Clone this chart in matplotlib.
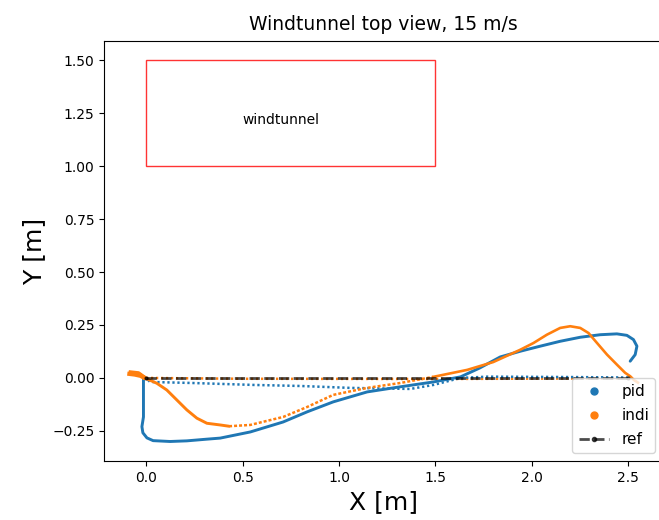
import matplotlib.pyplot as plt
from matplotlib.lines import Line2D
from matplotlib.patches import Rectangle

# pid trajectory: slow loop below the reference, then the climb to the right end
pid_loop_x = [-0.014, -0.014, -0.022, -0.017, 0.004, 0.036, 0.124, 0.211, 0.315,
              0.384, 0.54, 0.71, 0.835, 0.97, 1.146, 1.317, 1.489, 1.63, 1.73,
              1.836, 1.94, 2.044, 2.147, 2.251, 2.355, 2.441, 2.493, 2.527, 2.545,
              2.536, 2.51]
pid_loop_y = [-0.009, -0.184, -0.230, -0.259, -0.283, -0.296, -0.300, -0.297,
              -0.289, -0.284, -0.255, -0.208, -0.160, -0.113, -0.066, -0.042,
              -0.019, 0.005, 0.047, 0.099, 0.126, 0.150, 0.173, 0.192, 0.204,
              0.208, 0.201, 0.181, 0.150, 0.110, 0.079]
# pid fast return along y ~ 0
pid_back_x = [2.5, 2.225, 1.77, 1.63, 1.49, 1.37, 1.058, 0.80, 0.555, 0.244, 0.02, 0.0]
pid_back_y = [0.002, 0.004, 0.006, 0.0, -0.033, -0.052, -0.047, -0.038, -0.033,
              -0.024, -0.019, 0.0]

# indi trajectory
indi_start_x = [-0.087, -0.06, -0.03, -0.005, -0.04, -0.08]
indi_start_y = [0.019, 0.016, 0.010, -0.001, 0.022, 0.026]
indi_dive_x = [-0.005, 0.055, 0.107, 0.159, 0.211, 0.263, 0.315, 0.384, 0.43]
indi_dive_y = [-0.001, -0.025, -0.057, -0.104, -0.151, -0.190, -0.214, -0.222, -0.228]
indi_mid_x = [0.43, 0.539, 0.711, 0.835, 0.97, 1.146, 1.317, 1.489]
indi_mid_y = [-0.228, -0.222, -0.184, -0.137, -0.080, -0.047, -0.024, 0.005]
indi_arc_x = [1.489, 1.665, 1.80, 1.94, 2.009, 2.078, 2.147, 2.199, 2.251, 2.294,
              2.338, 2.390, 2.441, 2.484, 2.51, 2.53, 2.55]
indi_arc_y = [0.005, 0.038, 0.075, 0.133, 0.165, 0.204, 0.236, 0.244, 0.236, 0.212,
              0.165, 0.110, 0.063, 0.024, 0.008, -0.01, -0.022]
indi_back_x = [2.5, 1.5, 0.5, 0.0]
indi_back_y = [-0.002, -0.005, -0.004, 0.0]

# reference path
ref_x = [0.0, 2.5]
ref_y = [0.0, 0.0]

# windtunnel outline
tunnel_x, tunnel_y, tunnel_w, tunnel_h = 0.0, 1.0, 1.5, 0.5

c_pid = '#1f77b4'
c_indi = '#ff7f0e'

fig = plt.figure(figsize=(6.59, 5.2), dpi=100)
ax = fig.add_axes([0.158, 0.1135, 0.848, 0.8075])

dense = dict(lw=2.1, solid_capstyle='round', solid_joinstyle='round')
sparse = dict(lw=1.8, linestyle=(0, (0.9, 1.1)))

ax.plot(indi_back_x, indi_back_y, color=c_indi, **sparse)
ax.plot(pid_back_x, pid_back_y, color=c_pid, **sparse)
ax.plot(pid_loop_x, pid_loop_y, color=c_pid, **dense)
ax.plot(indi_start_x, indi_start_y, color=c_indi, lw=3.0, solid_joinstyle='round')
ax.plot(indi_dive_x, indi_dive_y, color=c_indi, **dense)
ax.plot(indi_mid_x, indi_mid_y, color=c_indi, lw=1.8, linestyle=(0, (1.2, 0.8)))
ax.plot(indi_arc_x, indi_arc_y, color=c_indi, lw=1.9, solid_joinstyle='round')
ax.plot(ref_x, ref_y, '--', marker='.', color='k', alpha=0.7, lw=2.0, markersize=4)

ax.add_patch(Rectangle((tunnel_x, tunnel_y), tunnel_w, tunnel_h,
                       fill=False, edgecolor='r', alpha=0.8))
ax.text(0.5, 1.2, 'windtunnel')

ax.set_xlim(-0.218, 2.68)
ax.set_ylim(-0.392, 1.59)
ax.set_title('Windtunnel top view, 15 m/s', fontsize=13.5, pad=8)
ax.set_xlabel('X [m]', fontsize=18)
ax.set_ylabel('Y [m]', fontsize=18)

handles = [
    Line2D([], [], linestyle='none', marker='o', markersize=5, color=c_pid),
    Line2D([], [], linestyle='none', marker='o', markersize=5, color=c_indi),
    Line2D([], [], linestyle='--', marker='.', color='k', alpha=0.7, lw=2.0),
]
ax.legend(handles, ['pid', 'indi', 'ref'], loc='lower right', fontsize=11,
          labelspacing=0.6)

fig.savefig('out.png', dpi=100)
